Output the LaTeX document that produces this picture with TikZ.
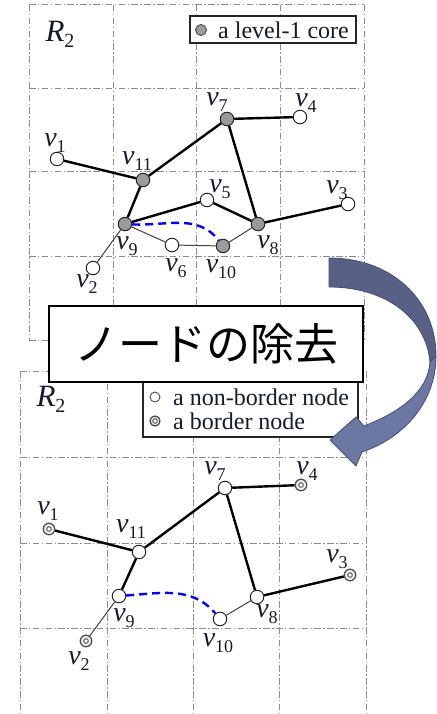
\documentclass[tikz,border=0pt]{standalone}
\usepackage{fontspec}
\setmainfont{Liberation Serif}
\newfontfamily\jpfont{Noto Sans CJK JP}
\definecolor{coregray}{RGB}{155,155,155}
\definecolor{arrowdark}{RGB}{88,97,133}
\definecolor{arrowlight}{RGB}{108,120,164}
\definecolor{arrowline}{RGB}{70,78,112}
\definecolor{labelcol}{RGB}{25,25,45}
\newcommand{\vlab}[1]{{\fontsize{28}{28}\selectfont\itshape v}{\fontsize{18}{18}\selectfont\raisebox{-5.5pt}{#1}}}
\begin{document}
\begin{tikzpicture}[x=1pt,y=-1pt,
  gridline/.style={draw=black!45,line width=1pt,dash pattern=on 6.5pt off 2.5pt on 1.3pt off 2.5pt},
  core/.style={circle,draw=black!85,line width=1pt,fill=coregray,minimum size=13.5pt,inner sep=0pt},
  plain/.style={circle,draw=black!85,line width=1pt,fill=white,minimum size=13.5pt,inner sep=0pt},
  bnode/.style={circle,draw=black!70,line width=1.3pt,fill=gray!12,minimum size=11.5pt,inner sep=0pt,
    path picture={\draw[black!70,line width=0.9pt,fill=white] (path picture bounding box.center) circle (2.3pt);}},
  heavy/.style={line width=2.4pt,black},
  light/.style={line width=1pt,black!75},
  blueline/.style={draw=blue,line width=2.4pt,dash pattern=on 8pt off 5pt},
  lab/.style={inner sep=0pt,text=labelcol},
  legbox/.style={draw=black!85,line width=1.1pt,fill=white,inner sep=0pt}
]
\useasboundingbox (0,0) rectangle (436,714);
% ---------- top grid ----------
\foreach \x in {29,113,196,280,364} \draw[gridline] (\x,5) -- (\x,340);
\foreach \y in {5,89,172,256,340} \draw[gridline] (29,\y) -- (364,\y);
% ---------- bottom grid ----------
\foreach \x in {20,107,193,279,366} \draw[gridline] (\x,371) -- (\x,714);
\foreach \y in {371,457,543,628} \draw[gridline] (20,\y) -- (366,\y);

% ---------- top graph ----------
\node[plain] (t1) at (57,159) {};
\node[core]  (t11) at (143,180) {};
\node[core]  (t7) at (227,119) {};
\node[plain] (t4) at (300,117) {};
\node[plain] (t5) at (207,200) {};
\node[plain] (t3) at (348,204) {};
\node[core]  (t9) at (125,224) {};
\node[core]  (t8) at (258,224) {};
\node[plain] (t6) at (172,245) {};
\node[core]  (t10) at (223,246) {};
\node[plain] (t2) at (93,268) {};

\draw[heavy] (t1) -- (t11);
\draw[heavy] (t11) -- (t7);
\draw[heavy] (t11) -- (t9);
\draw[heavy] (t7) -- (t4);
\draw[heavy] (t7) -- (t8);
\draw[heavy] (t9) -- (t5);
\draw[heavy] (t5) -- (t8);
\draw[heavy] (t8) -- (t3);
\draw[light] (t9) -- (t6);
\draw[light] (t6) -- (t10);
\draw[light] (t10) -- (t8);
\draw[light] (t9) -- (t2);
\draw[blueline] (t9) to[out=-3,in=128] (t10);

\node[lab] (lt1) at (55,143) {\vlab{1}};
\node[lab] (lt11) at (137,161) {\vlab{11}};
\node[lab] (lt7) at (217,102) {\vlab{7}};
\node[lab] (lt4) at (306,103) {\vlab{4}};
\node[lab] (lt5) at (220,189) {\vlab{5}};
\node[lab] (lt3) at (337,190) {\vlab{3}};
\node[lab] (lt9) at (127,246) {\vlab{9}};
\node[lab] (lt8) at (268,245) {\vlab{8}};
\node[lab] (lt6) at (176,268) {\vlab{6}};
\node[lab] (lt10) at (221,269) {\vlab{10}};
\node[lab] (lt2) at (87,284) {\vlab{2}};

\node[lab] (rt) at (60,34) {{\fontsize{31}{31}\selectfont\itshape R}{\fontsize{20}{20}\selectfont\raisebox{-6pt}{2}}};

% top legend
\node[legbox,minimum width=166pt,minimum height=27pt] (leg1) at (273,29.5) {};
\node[circle,draw=black!70,line width=0.9pt,fill=coregray,minimum size=11pt,inner sep=0pt] (lc1) at (201,30) {};
\node[lab,anchor=west,font=\fontsize{24}{25}\selectfont] (lt1txt) at (218,30) {a level-1 core};

% ---------- bottom graph ----------
\node[bnode] (b1) at (49,529) {};
\node[plain] (b11) at (139,552) {};
\node[plain] (b7) at (225,488) {};
\node[bnode] (b4) at (301,485) {};
\node[bnode] (b3) at (350,575) {};
\node[plain] (b9) at (119,596) {};
\node[plain] (b8) at (257,597) {};
\node[plain] (b10) at (220,619) {};
\node[bnode] (b2) at (86,641) {};

\draw[heavy] (b1) -- (b11);
\draw[heavy] (b11) -- (b7);
\draw[heavy] (b11) -- (b9);
\draw[heavy] (b7) -- (b4);
\draw[heavy] (b7) -- (b8);
\draw[heavy] (b8) -- (b3);
\draw[light] (b9) -- (b2);
\draw[light] (b10) -- (b8);
\draw[blueline] (b9) to[out=4,in=130] (b10);

\node[lab] (lb1) at (48,511) {\vlab{1}};
\node[lab] (lb11) at (131,529) {\vlab{11}};
\node[lab] (lb7) at (215,471) {\vlab{7}};
\node[lab] (lb4) at (307,471) {\vlab{4}};
\node[lab] (lb3) at (337,559) {\vlab{3}};
\node[lab] (lb9) at (124,618) {\vlab{9}};
\node[lab] (lb8) at (267,614) {\vlab{8}};
\node[lab] (lb10) at (218,643) {\vlab{10}};
\node[lab] (lb2) at (79,661) {\vlab{2}};

\node[lab] (rb) at (51,399) {{\fontsize{31}{31}\selectfont\itshape R}{\fontsize{20}{20}\selectfont\raisebox{-6pt}{2}}};

% bottom legend
\node[legbox,minimum width=215pt,minimum height=57pt] (leg2) at (250.5,408.5) {};
\node[circle,draw=black!70,line width=0.9pt,fill=white,minimum size=10pt,inner sep=0pt] (lc2) at (155,397) {};
\node[bnode,minimum size=10pt] (lc3) at (155,421) {};
\node[lab,anchor=west,font=\fontsize{24}{25}\selectfont] (lt2txt) at (173,397) {a non-border node};
\node[lab,anchor=west,font=\fontsize{24}{25}\selectfont] (lt3txt) at (173,421) {a border node};

% ---------- Japanese box ----------
\node[draw=black,line width=1.2pt,fill=white,minimum width=314pt,minimum height=76pt,inner sep=0pt] (jbox) at (206,344)
  {\jpfont\fontsize{44}{44}\selectfont ノードの除去};

% ---------- curved arrow ----------
\filldraw[fill=arrowdark,draw=arrowline,line width=0.8pt,line join=round]
  (329,258) .. controls (392,258) and (436,300) .. (436,356)
  -- (430,362) .. controls (426,318) and (386,287) .. (329,287) -- cycle;
\filldraw[fill=arrowlight,draw=arrowline,line width=0.8pt,line join=round]
  (436,356) .. controls (436,402) and (404,438) .. (362,452)
  -- (356,466) -- (330,440) -- (356,417) -- (364,426)
  .. controls (400,412) and (428,392) .. (430,362) -- cycle;
\end{tikzpicture}
\end{document}
